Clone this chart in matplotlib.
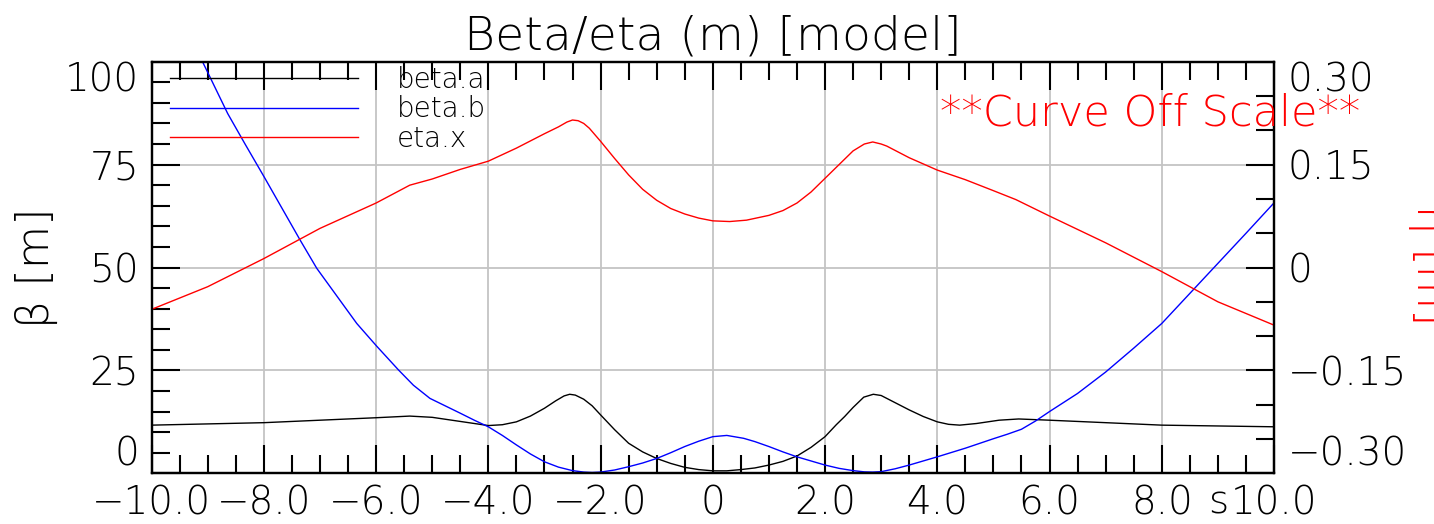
import matplotlib
matplotlib.use("Agg")
import matplotlib.pyplot as plt
from matplotlib import font_manager as fm
from matplotlib.ticker import MultipleLocator, FixedLocator, FixedFormatter

# ---------------- data ----------------
s_a = [-10.0, -8.0, -6.0, -5.4, -5.0, -4.45, -4.0, -3.75, -3.5, -3.25, -3.0, -2.8,
       -2.65, -2.55, -2.45, -2.3, -2.15, -2.0, -1.75, -1.5, -1.25, -1.0, -0.75, -0.5,
       -0.25, 0.0, 0.25, 0.5, 0.75, 1.0, 1.25, 1.5, 1.75, 2.0, 2.2, 2.35, 2.5, 2.69,
       2.86, 3.0, 3.1, 3.3, 3.5, 3.75, 4.0, 4.2, 4.4, 4.7, 5.1, 5.45, 6.0, 8.0, 10.0]
beta_a = [11.7, 12.3, 13.5, 13.9, 13.6, 12.5, 11.6, 11.8, 12.5, 13.9, 15.8, 17.6,
          18.8, 19.2, 19.0, 18.0, 16.4, 14.2, 10.6, 7.3, 5.2, 3.6, 2.4, 1.45,
          0.9, 0.6, 0.6, 0.9, 1.3, 2.0, 2.9, 4.2, 6.3, 8.9, 11.8, 13.8, 16.0, 18.5,
          19.2, 18.9, 18.2, 16.8, 15.4, 13.8, 12.5, 11.9, 11.7, 12.1, 12.9, 13.2, 12.9,
          11.7, 11.3]

s_b = [-10.0, -9.5, -9.107, -8.644, -8.335, -7.99, -7.355, -7.057, -6.344, -5.99, -5.6,
       -5.335, -5.04, -4.68, -4.5, -4.25, -4.0, -3.75, -3.5, -3.25, -3.0, -2.75, -2.5,
       -2.3, -2.15, -2.0, -1.75, -1.5, -1.25, -1.0, -0.75, -0.5, -0.25, 0.0, 0.25, 0.55,
       0.75, 1.0, 1.25, 1.5, 1.75, 2.0, 2.25, 2.5, 2.7, 2.85, 3.0, 3.25, 3.5, 3.75, 4.0,
       4.5, 5.0, 5.25, 5.5, 5.75, 6.0, 6.5, 7.0, 7.5, 8.0, 8.5, 9.0, 9.5, 10.0]
beta_b = [128.0, 112.0, 100.4, 87.4, 80.0, 71.9, 56.7, 49.8, 36.4, 30.9, 25.1,
          21.4, 18.2, 15.8, 14.6, 12.9, 11.3, 9.2, 6.9, 4.7, 2.8, 1.5, 0.65,
          0.3, 0.2, 0.3, 0.8, 1.6, 2.5, 3.6, 5.0, 6.5, 7.8, 8.9, 9.2, 8.5,
          7.7, 6.5, 5.2, 4.0, 3.0, 2.0, 1.2, 0.65, 0.35, 0.3, 0.4, 1.1, 2.0, 3.0, 4.0,
          6.1, 8.4, 9.5, 10.7, 12.7, 15.0, 19.4, 24.6, 30.4, 36.4, 43.7, 51.0, 58.3, 65.7]

s_x = [-10.0, -9.0, -8.0, -7.0, -6.0, -5.4, -5.0, -4.5, -4.0, -3.5, -3.0, -2.75, -2.6,
       -2.5, -2.4, -2.3, -2.2, -2.0, -1.75, -1.5, -1.25, -1.0, -0.75, -0.5, -0.25, 0.0,
       0.3, 0.6, 1.0, 1.25, 1.5, 1.75, 2.0, 2.25, 2.5, 2.7, 2.85, 3.0, 3.1, 3.5, 4.0,
       4.5, 5.0, 5.4, 6.0, 7.0, 8.0, 9.0, 10.0]
eta_x = [-0.061, -0.028, 0.013, 0.057, 0.094, 0.120, 0.129, 0.143, 0.155, 0.174, 0.195,
         0.205, 0.212, 0.215, 0.214, 0.210, 0.203, 0.184, 0.159, 0.135, 0.114, 0.098,
         0.086, 0.078, 0.072, 0.068, 0.067, 0.069, 0.076, 0.083, 0.094, 0.110, 0.130,
         0.150, 0.170, 0.180, 0.183, 0.180, 0.177, 0.160, 0.142, 0.128, 0.112, 0.099,
         0.075, 0.036, -0.006, -0.050, -0.084]

x_ticks = [-10, -8, -6, -4, -2, 0, 2, 4, 6, 8, 10]
x_ticklabels = ["\u221210.0", "\u22128.0", "\u22126.0", "\u22124.0", "\u22122.0", "0",
                "2.0", "4.0", "6.0", "8.0", "10.0"]
yl_ticks = [0, 25, 50, 75, 100]
yl_ticklabels = ["0", "25", "50", "75", "100"]
yr_ticks = [-0.30, -0.15, 0.0, 0.15, 0.30]
yr_ticklabels = ["\u22120.30", "\u22120.15", "0", "0.15", "0.30"]

title = "Beta/eta (m) [model]"
labels = ["beta.a", "beta.b", "eta.x"]
ylabel_left = "\u03b2 [m]"
ylabel_right = "\u03b7 [m]"


# ---------------- font: pick a thin face if available ----------------
def pick_light_font():
    prefs = ["DejaVu Sans", "Lato", "Roboto", "Open Sans", "Inter", "Noto Sans"]
    for fam in prefs:
        best = None
        for f in fm.fontManager.ttflist:
            if f.name != fam or f.style != "normal":
                continue
            try:
                w = int(f.weight)
            except (TypeError, ValueError):
                w = {"ultralight": 200, "light": 300, "thin": 100}.get(str(f.weight), 400)
            if w <= 300 and (best is None or abs(w - 250) < abs(best[1] - 250)):
                best = (f.name, w)
        if best:
            return best
    return ("DejaVu Sans", 400)


FAM, WGT = pick_light_font()
plt.rcParams["font.family"] = [FAM, "DejaVu Sans"]
plt.rcParams["font.weight"] = WGT

# ---------------- figure ----------------
W, H = 1434, 524
fig = plt.figure(figsize=(W / 100, H / 100), dpi=100)
L, R, T, B = 151.6, 1274.0, 61.7, 473.3
ax = fig.add_axes([L / W, 1 - B / H, (R - L) / W, (B - T) / H])
ax2 = ax.twinx()

la, = ax.plot(s_a, beta_a, color="black", lw=1.0, label=labels[0])
lb, = ax.plot(s_b, beta_b, color="#0000ff", lw=1.0, label=labels[1])
lx, = ax2.plot(s_x, eta_x, color="#ff0000", lw=1.0, label=labels[2])

ax.set_xlim(-10, 10)
ax.set_ylim(0, 100)
ax2.set_ylim(-0.30, 0.30)

tick_fs = 28
ax.xaxis.set_major_locator(FixedLocator(x_ticks))
ax.xaxis.set_major_formatter(FixedFormatter(x_ticklabels))
ax.xaxis.set_minor_locator(MultipleLocator(0.5))
ax.yaxis.set_major_locator(FixedLocator(yl_ticks))
ax.yaxis.set_major_formatter(FixedFormatter(yl_ticklabels))
ax.yaxis.set_minor_locator(MultipleLocator(5))
ax2.yaxis.set_major_locator(FixedLocator(yr_ticks))
ax2.yaxis.set_major_formatter(FixedFormatter(yr_ticklabels))
ax2.yaxis.set_minor_locator(MultipleLocator(0.05))

ax.tick_params(axis="both", which="both", direction="in", width=1.5, colors="black",
               labelsize=tick_fs, top=True, right=False)
ax.tick_params(axis="both", which="major", length=20.5)
ax.tick_params(axis="both", which="minor", length=13)
ax.tick_params(axis="x", which="major", pad=8)
ax.tick_params(axis="y", which="major", pad=9)
ax2.tick_params(axis="y", which="both", direction="in", width=1.5, labelsize=tick_fs,
                left=False, right=True)
ax2.tick_params(axis="y", which="major", length=20.5, pad=10)
ax2.tick_params(axis="y", which="minor", length=13)

for a in (ax, ax2):
    for sp in a.spines.values():
        sp.set_linewidth(1.6)
        sp.set_color("black")

ax.grid(which="major", color="#c4c4c4", lw=1.3)
ax.set_axisbelow(True)

for t in ax.get_yticklabels():
    if t.get_text() == "0":
        t.set_va("bottom")
    if t.get_text() == "100":
        t.set_va("top")
for t in ax2.get_yticklabels():
    if t.get_text() == "\u22120.30":
        t.set_va("bottom")
    if t.get_text() == "0.30":
        t.set_va("top")

# x axis label "s" placed just left of last tick label
ax.annotate("s", xy=(1, 0), xycoords="axes fraction", xytext=(-33, -29),
            textcoords="offset points", ha="right", va="baseline", fontsize=tick_fs)

# axis labels
fig.text(15 / W, 1 - 268 / H, ylabel_left, rotation=90, ha="left", va="center",
         fontsize=32)
fig.text(1408 / W, 1 - 265 / H, ylabel_right, rotation=-90, ha="left", va="center",
         fontsize=32, color="#ff0000")

# title
fig.text((L + R) / 2 / W, 1 - 50 / H, title, ha="center", va="baseline", fontsize=34)

# off-scale note
fig.text(940 / W, 1 - 126 / H, "**Curve Off Scale**", ha="left", va="baseline",
         fontsize=31, color="#ff0000", zorder=10)

# legend
leg = ax2.legend([la, lb, lx], labels, loc="upper left",
                 bbox_to_anchor=(170 / W, 1 - 66 / H), bbox_transform=fig.transFigure,
                 frameon=False, fontsize=20, handlelength=6.77, handletextpad=1.4,
                 labelspacing=0.05, borderpad=0, borderaxespad=0)

fig.savefig("out.png", dpi=100)
